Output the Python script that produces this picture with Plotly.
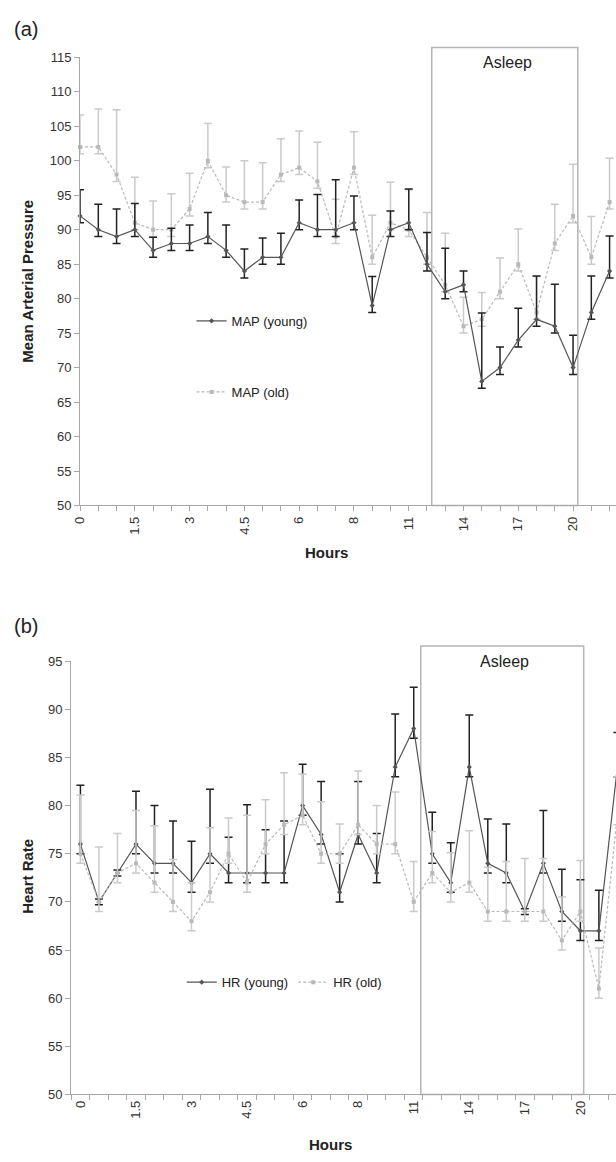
import plotly.graph_objects as go

W, H = 616, 1162

# ---------------- data ----------------
hours = ["0", "0.5", "1", "1.5", "2", "2.5", "3", "3.5", "4", "4.5", "5", "5.5", "6",
         "6.5", "7", "8", "9", "10", "11", "12", "13", "14", "15", "16", "17", "18",
         "19", "20", "21", "22"]
shown_labels = ["0", "1.5", "3", "4.5", "6", "8", "11", "14", "17", "20"]

map_young = [92, 90, 89, 90, 87, 88, 88, 89, 87, 84, 86, 86, 91, 90, 90, 91, 79, 90, 91, 85,
             81, 82, 68, 70, 74, 77, 76, 70, 78, 84]
map_young_hi = [95.8, 93.7, 93, 93.8, 88.9, 90.2, 90.7, 92.5, 90.7, 87.2, 88.8, 89.5, 94.3, 95.1,
                97.25, 94.9, 83.2, 92.7, 95.9, 89.6, 87.3, 84, 77.9, 73, 78.6, 83.3, 82.1, 74.7,
                83.3, 89.1]
map_young_lo = [91, 89, 88, 89, 86, 87, 87, 88, 86, 83, 85, 85, 90, 89, 89, 90, 78, 89, 90, 84,
                80, 81, 67, 69, 73, 76, 75, 69, 77, 83]

map_old = [102, 102, 98, 91, 90, 90, 93, 100, 95, 94, 94, 98, 99, 97, 89, 99, 86, 91, 90, 86,
           82, 76, 77, 81, 85, 78, 88, 92, 86, 94]
map_old_hi = [106.65, 107.5, 107.4, 97.6, 94.15, 95.2, 98.2, 105.4, 99.1, 100.0, 99.7, 103.2,
              104.3, 102.7, 94.4, 104.2, 92.1, 96.9, 95.8, 92.5, 89.5, 80.2, 80.9, 85.9, 90.1,
              83.2, 93.7, 99.5, 91.9, 100.35]
map_old_lo = [101, 101, 97, 90, 89, 89, 92, 99, 94, 93, 93, 97, 98, 96, 88, 98, 85, 90, 89, 85,
              81, 75, 76, 80, 84, 77, 87, 91, 85, 93]

hr_young = [76, 70, 73, 76, 74, 74, 72, 75, 73, 73, 73, 73, 80, 77, 71, 77, 73, 84, 88, 75,
            72, 84, 74, 73, 69, 74, 69, 67, 67, 84]
hr_young_hi = [82.1, 70.3, 73.3, 81.5, 80.0, 78.4, 76.3, 81.7, 76.7, 80.1, 77.5, 78.4, 84.3, 82.5,
               75, 82.5, 77.1, 89.5, 92.3, 79.3, 76.15, 89.4, 78.6, 78.1, 69.3, 79.5, 73.4, 72.3,
               71.2, 87.6]
hr_young_lo = [75, 69.7, 72.7, 75, 73, 73, 71, 74, 72, 72, 72, 72, 79, 76, 70, 76, 72, 83, 87, 74,
               71, 83, 73, 72, 68.7, 73, 68, 66, 66, 83]

hr_old = [75, 70, 73, 74, 72, 70, 68, 71, 75, 72, 76, 78, 79, 75, 75, 78, 76, 76, 70, 73,
          71, 72, 69, 69, 69, 69, 66, 69, 61, 79]
hr_old_hi = [81.1, 75.7, 77.1, 79.5, 77.9, 74.4, 72.0, 77.7, 78.7, 79.0, 80.6, 83.4, 83.25, 80.4,
             78.1, 83.6, 80.0, 81.4, 74.2, 77.3, 75.1, 77.4, 73.6, 74.2, 74.5, 74.5, 70.5, 74.3,
             65.2, 83]
hr_old_lo = [74, 69, 72, 73, 71, 69, 67, 70, 74, 71, 75, 77, 78, 74, 74, 77, 75, 75, 69, 72,
             70, 71, 68, 68, 68, 68, 65, 68, 60, 78]

map_ticks = [50, 55, 60, 65, 70, 75, 80, 85, 90, 95, 100, 105, 110, 115]
hr_ticks = [50, 55, 60, 65, 70, 75, 80, 85, 90, 95]

# ---------------- style ----------------
FONT = "Liberation Sans, Arial, sans-serif"
YOUNG = "#555555"
YOUNG_ERR = "#222222"
OLD = "#b9b9b9"
OLD_ERR = "#cacaca"
AXIS = "#a8a8a8"
TXT = "#333333"

ticktext = [h if h in shown_labels else "" for h in hours]


def py(px):
    return 1 - px / H


def err(v, hi, lo):
    return dict(type="data", symmetric=False,
                array=[h - x for h, x in zip(hi, v)],
                arrayminus=[x - l for x, l in zip(v, lo)])


fig = go.Figure()


def add_series(x, y, hi, lo, name, color, ecolor, dash, symbol, xa, ya, legend):
    e = err(y, hi, lo)
    e.update(color=ecolor, thickness=1.5, width=4)
    fig.add_trace(go.Scatter(
        x=x, y=y, name=name, mode="lines+markers",
        line=dict(color=color, width=1.2, dash=dash),
        marker=dict(color=color, size=4, symbol=symbol),
        error_y=e, xaxis=xa, yaxis=ya, legend=legend, cliponaxis=False))


# panel (a)
add_series(hours, map_old, map_old_hi, map_old_lo, "MAP (old)", OLD, OLD_ERR, "3px,2px",
           "square", "x", "y", "legend2")
add_series(hours, map_young, map_young_hi, map_young_lo, "MAP (young)", YOUNG, YOUNG_ERR,
           "solid", "diamond", "x", "y", "legend")
# panel (b)
add_series(hours, hr_young, hr_young_hi, hr_young_lo, "HR (young)", YOUNG, YOUNG_ERR,
           "solid", "diamond", "x2", "y2", "legend3")
add_series(hours, hr_old, hr_old_hi, hr_old_lo, "HR (old)", OLD, OLD_ERR, "3px,2px",
           "square", "x2", "y2", "legend3")

tickfont = dict(family=FONT, size=13, color=TXT)

# (a) geometry
a_left, a_top, a_bot, a_step = 73, 51, 505, 18.5
# (b) geometry
b_left, b_top, b_bot, b_step = 64, 662.7, 1101.7, 18.76

common_x = dict(type="category", categoryorder="array", categoryarray=hours,
                tickmode="array", tickvals=hours, ticktext=ticktext, tickangle=-90,
                tickfont=tickfont, showgrid=False, zeroline=False, showline=True,
                linecolor=AXIS, linewidth=1, ticks="outside", ticklen=5, tickcolor=AXIS,
                fixedrange=True)
common_y = dict(showgrid=False, zeroline=False, showline=True, linecolor=AXIS, linewidth=1,
                ticks="outside", ticklen=5, tickcolor=AXIS, tickfont=tickfont,
                tickmode="array", fixedrange=True)

fig.update_layout(
    width=W, height=H, margin=dict(l=0, r=0, t=0, b=0),
    paper_bgcolor="white", plot_bgcolor="white",
    font=dict(family=FONT, color=TXT),
    xaxis=dict(common_x, domain=[a_left / W, 1], anchor="y",
               range=[0, (W - a_left) / a_step]),
    yaxis=dict(common_y, domain=[py(a_bot), py(a_top)], anchor="x", range=[50, 115],
               tickvals=map_ticks),
    xaxis2=dict(common_x, domain=[b_left / W, 1], anchor="y2", tickson="boundaries",
                range=[-0.5, -0.5 + (W - b_left) / b_step]),
    yaxis2=dict(common_y, domain=[py(b_bot), py(b_top)], anchor="x2", range=[50, 95],
                tickvals=hr_ticks),
    legend=dict(x=186 / W, y=py(318), xanchor="left", yanchor="middle",
                font=dict(family=FONT, size=13, color="#222"), bgcolor="rgba(0,0,0,0)",
                itemwidth=30),
    legend2=dict(x=186 / W, y=py(390), xanchor="left", yanchor="middle",
                 font=dict(family=FONT, size=13, color="#222"), bgcolor="rgba(0,0,0,0)",
                 itemwidth=30),
    legend3=dict(x=176 / W, y=py(988), xanchor="left", yanchor="middle", orientation="h",
                 font=dict(family=FONT, size=13, color="#222"), bgcolor="rgba(0,0,0,0)",
                 itemwidth=30),
    showlegend=True,
)

# Asleep boxes
fig.add_shape(type="rect", xref="x", yref="y domain", x0=19.26, x1=27.26, y0=0,
              y1=1 + 10 / (a_bot - a_top), line=dict(color="#b5b5b5", width=1.5),
              fillcolor="rgba(0,0,0,0)", layer="below")
fig.add_shape(type="rect", xref="x2", yref="y2 domain", x0=18.38, x1=27.18, y0=0,
              y1=1 + 15.4 / (b_bot - b_top), line=dict(color="#b5b5b5", width=1.5),
              fillcolor="rgba(0,0,0,0)", layer="below")


def ann(text, x, y, size, bold=False, angle=0, xanchor="center"):
    fig.add_annotation(text=text, xref="paper", yref="paper", x=x / W, y=py(y),
                       xanchor=xanchor, yanchor="middle", showarrow=False, textangle=angle,
                       font=dict(family=FONT, size=size, color="#222",
                                 weight="bold" if bold else "normal"))


ann("(a)", 4, 22, 20, xanchor="left")
ann("(b)", 4, 627, 20, xanchor="left")
ann("Asleep", 506, 56, 16)
ann("Asleep", 503, 663, 16)
ann("Mean Arterial Pressure", 19.5, 278, 15, bold=True, angle=-90)
ann("Heart Rate", 19.5, 881, 15, bold=True, angle=-90)
ann("Hours", 323, 553, 15, bold=True)
ann("Hours", 327, 1152, 15, bold=True)

fig.write_html("out.html")
